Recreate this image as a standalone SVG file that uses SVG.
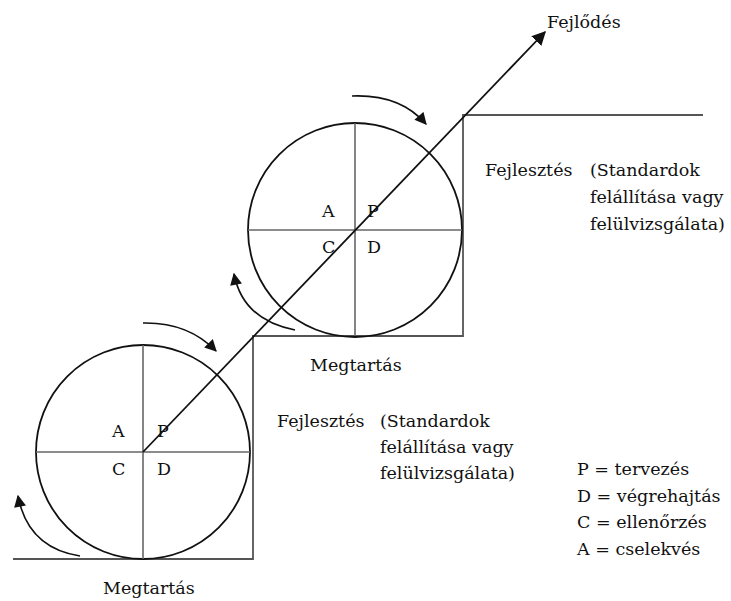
<svg xmlns="http://www.w3.org/2000/svg" width="731" height="601" viewBox="0 0 731 601">
<style>
text{font-family:"DejaVu Serif","Liberation Serif",serif;font-size:17.5px;fill:#111}
.circ{fill:none;stroke:#111;stroke-width:1.8}
.quad{stroke:#666;stroke-width:1.6;fill:none}
.step{stroke:#555;stroke-width:1.8;fill:none}
.arc{fill:none;stroke:#111;stroke-width:1.6}
</style>
<defs>
<marker id="ah" viewBox="0 0 10 10" refX="9" refY="5" markerWidth="13" markerHeight="12" markerUnits="userSpaceOnUse" orient="auto"><path d="M0,0 L10,5 L0,10 z" fill="#111"/></marker>
<marker id="ah2" viewBox="0 0 10 10" refX="9" refY="5" markerWidth="14" markerHeight="14" markerUnits="userSpaceOnUse" orient="auto"><path d="M0,0 L10,5 L0,10 z" fill="#111"/></marker>
</defs>
<rect width="731" height="601" fill="#fff"/>
<g id="steps">
<path class="step" d="M13,559 H253 V336 H463 V115 H703"/>
</g>
<g id="circle-lower">
<circle class="circ" cx="143" cy="452" r="107"/>
<line class="quad" x1="143" y1="345" x2="143" y2="559"/>
<line class="quad" x1="36" y1="452" x2="250" y2="452"/>
<text x="112" y="437">A</text>
<text x="157" y="437">P</text>
<text x="112" y="475">C</text>
<text x="157" y="475">D</text>
</g>
<g id="circle-upper">
<circle class="circ" cx="355" cy="230" r="107"/>
<line class="quad" x1="355" y1="123" x2="355" y2="336"/>
<line class="quad" x1="248" y1="230" x2="462" y2="230"/>
<text x="322" y="217">A</text>
<text x="367" y="217">P</text>
<text x="322" y="253">C</text>
<text x="367" y="253">D</text>
</g>
<g id="connectors">
<line x1="143" y1="452" x2="545" y2="32" stroke="#111" stroke-width="1.8" marker-end="url(#ah2)"/>
<path class="arc" d="M143,323 Q188,322 216,351" marker-end="url(#ah)"/>
<path class="arc" d="M80,556 Q28,548 18,496" marker-end="url(#ah)"/>
<path class="arc" d="M352,96 Q400,94 426,124" marker-end="url(#ah)"/>
<path class="arc" d="M295,330 Q243,320 234,274" marker-end="url(#ah)"/>
</g>
<g id="labels">
<text x="547" y="28">Fejlődés</text>
<text x="310" y="371">Megtartás</text>
<text x="103" y="594">Megtartás</text>
<text x="485" y="176">Fejlesztés</text>
<text x="590" y="176">(Standardok</text>
<text x="590" y="203">felállítása vagy</text>
<text x="590" y="230">felülvizsgálata)</text>
<text x="277" y="427">Fejlesztés</text>
<text x="380" y="427">(Standardok</text>
<text x="380" y="453">felállítása vagy</text>
<text x="380" y="479">felülvizsgálata)</text>
</g>
<g id="legend">
<text x="577" y="475">P = tervezés</text>
<text x="577" y="502">D = végrehajtás</text>
<text x="577" y="528">C = ellenőrzés</text>
<text x="577" y="555">A = cselekvés</text>
</g>
</svg>
